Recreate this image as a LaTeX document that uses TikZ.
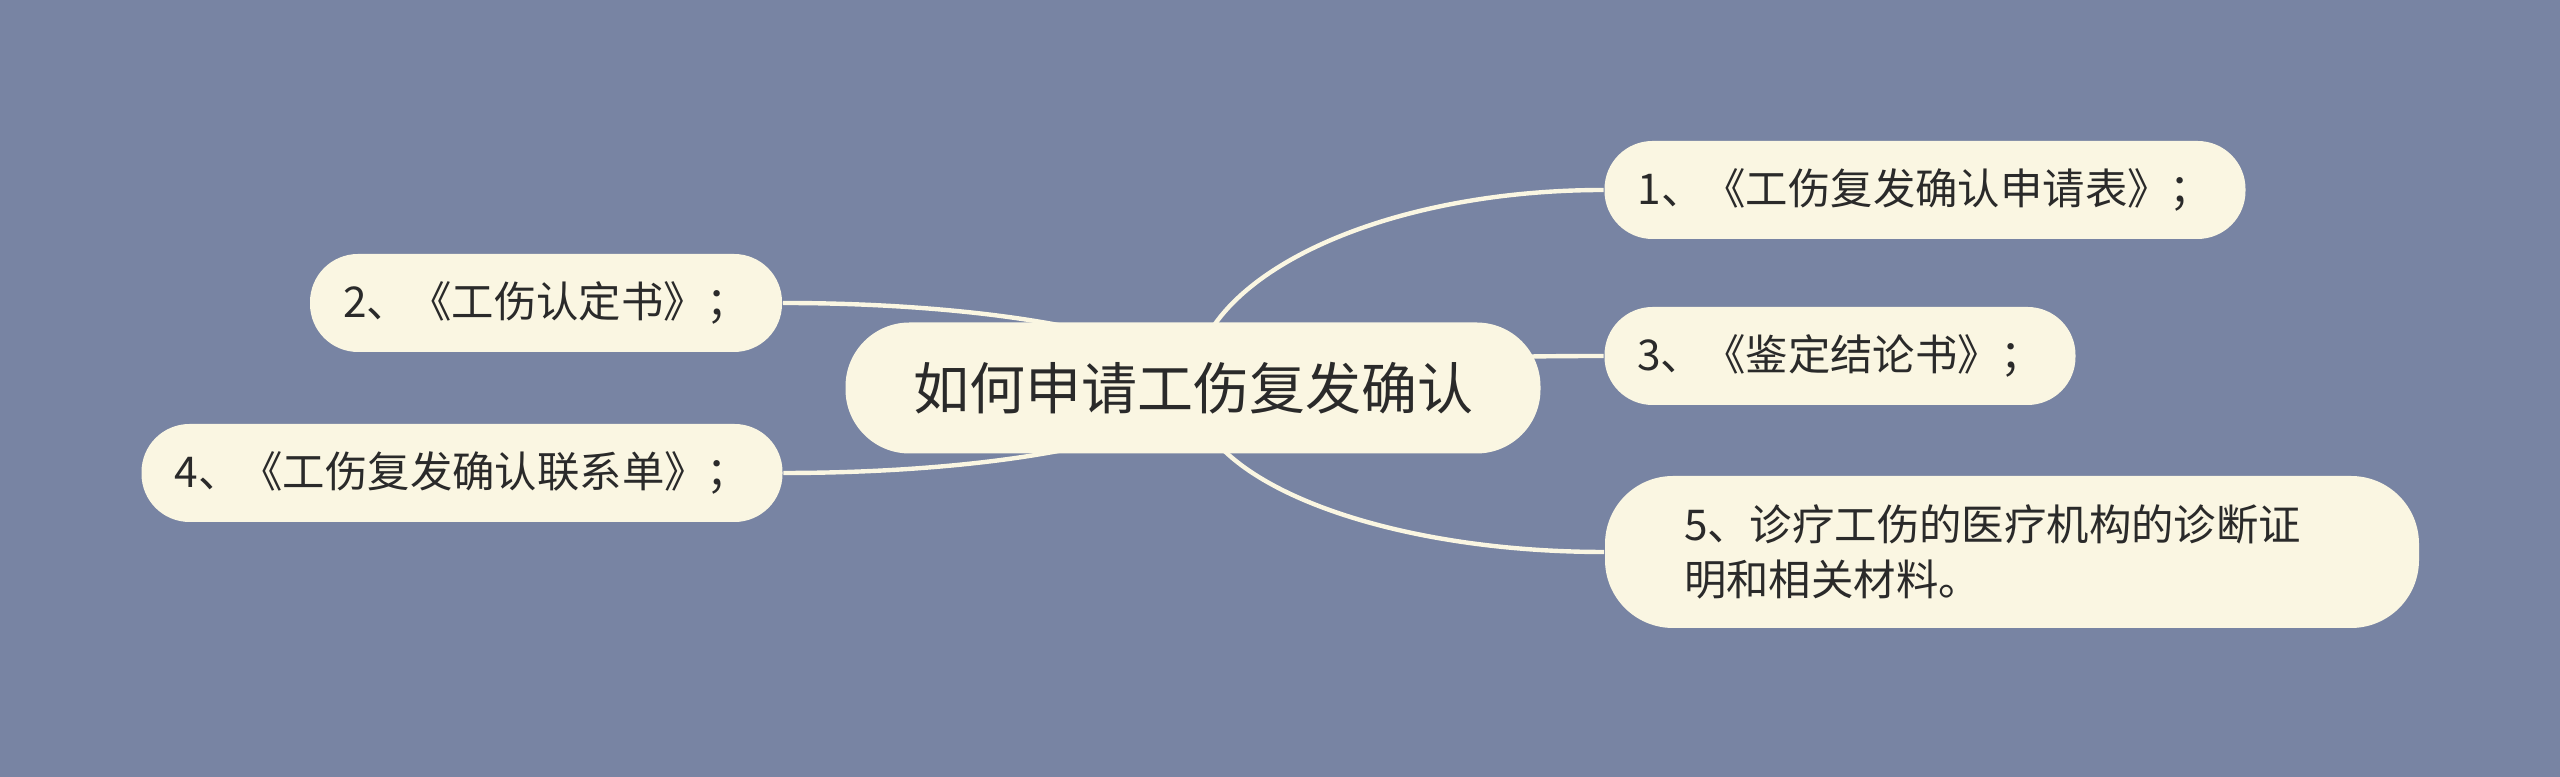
\documentclass[tikz,border=0pt]{standalone}
\usepackage{fontspec}
\newfontfamily\cjk{Noto Sans CJK SC}
\usetikzlibrary{calc}
\definecolor{bgc}{HTML}{7884A3}
\definecolor{nodefill}{HTML}{FAF6E2}
\definecolor{linec}{HTML}{FAF6E2}
\definecolor{txt}{HTML}{2A2A2A}
\pgfdeclarelayer{back}
\pgfdeclarelayer{lines}
\pgfsetlayers{back,lines,main}
\begin{document}
\begin{tikzpicture}[x=0.25pt,y=-0.25pt,
  mainbox/.style={fill=nodefill, rounded corners=16pt, minimum width=173.75pt,
    minimum height=32.75pt, inner sep=0pt, text=txt, font=\cjk\fontsize{14}{17}\selectfont},
  subbox/.style={fill=nodefill, rounded corners=12pt, minimum height=24.5pt,
    inner sep=0pt, text=txt, font=\cjk\fontsize{10.6}{13.75}\selectfont},
  conn/.style={draw=linec, line width=1.1pt}]
\begin{pgfonlayer}{back}
\fill[bgc] (0,0) rectangle (2560,777);
\end{pgfonlayer}
\useasboundingbox (0,0) rectangle (2560,777);

\node[mainbox] (c) at (1193,388) {如何申请工伤复发确认};
\node[subbox, minimum width=160.25pt] (n1) at (1925,190) {1、《工伤复发确认申请表》；};
\node[subbox, minimum width=118pt] (n2) at (546,303) {2、《工伤认定书》；};
\node[subbox, minimum width=117.75pt] (n3) at (1840,356) {3、《鉴定结论书》；};
\node[subbox, minimum width=160.25pt] (n4) at (462,473) {4、《工伤复发确认联系单》；};
\node[subbox, minimum width=203.5pt, minimum height=38pt, rounded corners=17pt,
  text width=164pt, inner xsep=19.75pt, align=left] (n5) at (2012,552)
  {5、诊疗工伤的医疗机构的诊断证\\明和相关材料。};

\begin{pgfonlayer}{lines}
\foreach \n/\a in {n1/west,n3/west,n5/west,n2/east,n4/east}{
  \draw[conn] (c.center) .. controls ($(c.center)!0.552!(c.center|-\n.\a)$)
    and ($(\n.\a)!0.552!(c.center|-\n.\a)$) .. (\n.\a);
}
\end{pgfonlayer}
\end{tikzpicture}
\end{document}
